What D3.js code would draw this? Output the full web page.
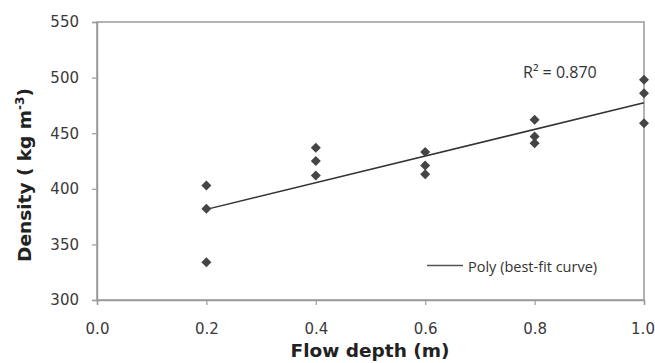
<!DOCTYPE html>
<html><head><meta charset="utf-8">
<script src="https://cdn.jsdelivr.net/npm/d3@7"></script>
<style>body{margin:0;background:#fff}svg{display:block}</style>
</head><body>
<script>
const depths = [0.2,0.2,0.2,0.4,0.4,0.4,0.6,0.6,0.6,0.8,0.8,0.8,1.0,1.0,1.0];
const densities = [403,382,334,437,425,412,433,421,413,462,447,441,498,486,459];
const fitX = [0.2,1.0];
const fitY = [381.5,477.4];
const xTicks = [0,0.2,0.4,0.6,0.8,1.0];
const yTicks = [300,350,400,450,500,550];
const r2Label = "R² = 0.870";
const legendLabel = "Poly  (best-fit curve)";

const W=655,H=363;
const m={l:97,r:11,t:22,b:63};
const svg=d3.select("body").append("svg").attr("width",W).attr("height",H);
const x=d3.scaleLinear().domain([0,1]).range([m.l,W-m.r]);
const y=d3.scaleLinear().domain([300,550]).range([H-m.b,m.t]);
const font="'Open Sans', sans-serif";
const tfont="'DejaVu Sans', Verdana, sans-serif";

// frame
svg.append("rect").attr("x",x(0)).attr("y",y(550)).attr("width",x(1)-x(0)).attr("height",y(300)-y(550))
  .attr("fill","none").attr("stroke","#9a9a9a").attr("stroke-width",1.5);

const xa=svg.append("g").attr("transform",`translate(0,${y(300)})`)
  .call(d3.axisBottom(x).tickValues(xTicks).tickFormat(d3.format(".1f")).tickSize(5).tickPadding(18));
const ya=svg.append("g").attr("transform",`translate(${x(0)},0)`)
  .call(d3.axisLeft(y).tickValues(yTicks).tickSize(5).tickPadding(13));
[xa,ya].forEach(a=>{
  a.select(".domain").attr("stroke","#9a9a9a").attr("stroke-width",1.5);
  a.selectAll(".tick line").attr("stroke","#9a9a9a").attr("stroke-width",1.2);
  a.selectAll("text").attr("font-family",tfont).attr("font-size",15).attr("fill","#3a3a3a");
});
xa.selectAll(".tick text").filter(d=>d===1).attr("dx",-1.5);

// fit line
svg.append("path").datum(fitX.map((d,i)=>[d,fitY[i]]))
  .attr("d",d3.line().x(d=>x(d[0])).y(d=>y(d[1])))
  .attr("stroke","#333").attr("stroke-width",1.5).attr("fill","none");

// points
const sym=d3.symbol().type(d3.symbolDiamond2).size(64);
svg.append("g").selectAll("path").data(depths.map((d,i)=>[d,densities[i]])).join("path")
  .attr("d",sym).attr("transform",d=>`translate(${x(d[0])},${y(d[1])})`)
  .attr("fill","#454545");

// R2 label
svg.append("text").attr("x",523).attr("y",78).attr("font-family",font).attr("font-size",16).attr("fill","#333").text(r2Label);

// legend
svg.append("line").attr("x1",427).attr("x2",463).attr("y1",265.5).attr("y2",265.5).attr("stroke","#555").attr("stroke-width",1.5);
svg.append("text").attr("x",468).attr("y",272).attr("font-family",font).attr("font-size",14.5).attr("fill","#333").text(legendLabel);

// titles
svg.append("text").attr("x",370).attr("y",357).attr("text-anchor","middle").attr("font-family",tfont)
  .attr("font-weight","bold").attr("font-size",18.5).attr("fill","#222").text("Flow depth (m)");
const yt=svg.append("text").attr("transform","translate(31,175) rotate(-90)").attr("text-anchor","middle")
  .attr("font-family",tfont).attr("font-weight","bold").attr("font-size",18.5).attr("fill","#222");
yt.append("tspan").text("Density ( kg m");
yt.append("tspan").attr("dy",-7).attr("font-size",12).text("-3");
yt.append("tspan").attr("dy",7).text(")");
</script>
</body></html>
